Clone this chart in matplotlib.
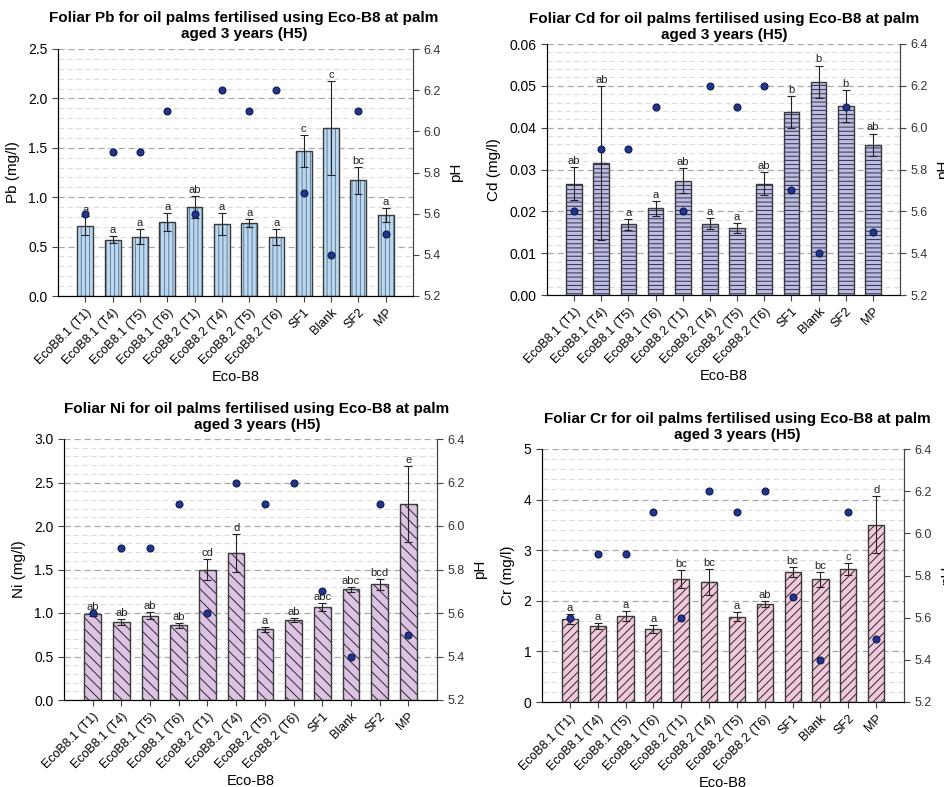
import matplotlib
matplotlib.use("Agg")
import matplotlib.pyplot as plt
from matplotlib.ticker import MultipleLocator, FormatStrFormatter
import numpy as np

plt.rcParams['font.family'] = ['Liberation Sans', 'DejaVu Sans']
plt.rcParams['hatch.linewidth'] = 0.7

# treatments and soil pH (same for every panel)
categories = ["EcoB8.1 (T1)", "EcoB8.1 (T4)", "EcoB8.1 (T5)", "EcoB8.1 (T6)",
              "EcoB8.2 (T1)", "EcoB8.2 (T4)", "EcoB8.2 (T5)", "EcoB8.2 (T6)",
              "SF1", "Blank", "SF2", "MP"]
ph = [5.6, 5.9, 5.9, 6.1, 5.6, 6.2, 6.1, 6.2, 5.7, 5.4, 6.1, 5.5]

# foliar Pb
pb_mean = [0.71, 0.57, 0.60, 0.75, 0.90, 0.73, 0.74, 0.60, 1.47, 1.70, 1.17, 0.82]
pb_err = [0.095, 0.035, 0.075, 0.09, 0.115, 0.11, 0.04, 0.08, 0.16, 0.48, 0.135, 0.075]
pb_letters = ["a", "a", "a", "a", "ab", "a", "a", "a", "c", "c", "bc", "a"]

# foliar Cd
cd_mean = [0.0266, 0.0316, 0.0169, 0.0207, 0.0273, 0.0170, 0.0160, 0.0266,
           0.0438, 0.0510, 0.0452, 0.0359]
cd_err = [0.0040, 0.0184, 0.0013, 0.0018, 0.0030, 0.0013, 0.0012, 0.0027,
          0.0038, 0.0038, 0.0038, 0.0027]
cd_letters = ["ab", "ab", "a", "a", "ab", "a", "a", "ab", "b", "b", "b", "ab"]

# foliar Ni
ni_mean = [0.985, 0.897, 0.966, 0.858, 1.50, 1.69, 0.812, 0.916, 1.073, 1.272, 1.33, 2.253]
ni_err = [0.02, 0.035, 0.04, 0.028, 0.115, 0.215, 0.025, 0.025, 0.045, 0.03, 0.065, 0.435]
ni_letters = ["ab", "ab", "ab", "ab", "cd", "d", "a", "ab", "abc", "abc", "bcd", "e"]

# foliar Cr
cr_mean = [1.647, 1.509, 1.70, 1.436, 2.424, 2.372, 1.686, 1.937, 2.569, 2.424, 2.628, 3.505]
cr_err = [0.10, 0.06, 0.09, 0.08, 0.18, 0.25, 0.09, 0.05, 0.09, 0.145, 0.11, 0.57]
cr_letters = ["a", "a", "a", "a", "bc", "bc", "a", "ab", "bc", "bc", "c", "d"]

W, H = 945, 787
fig = plt.figure(figsize=(W / 100, H / 100), dpi=100)


def px_axes(left, top, right, bottom):
    return fig.add_axes([left / W, 1 - bottom / H, (right - left) / W, (bottom - top) / H])


def panel(box, title_xy, element, means, errs, letters, ymax, major, minor, fmt,
          face, hatch, hatch_col, letter_off):
    ax = px_axes(*box)
    x = np.arange(len(categories))

    # hatched fill, then outline on top
    ax.bar(x, means, width=0.58, color=face, edgecolor=hatch_col, hatch=hatch,
           linewidth=0, zorder=2)
    ax.bar(x, means, width=0.58, color='none', edgecolor='#3a3a3a', linewidth=1.0, zorder=3)
    ax.errorbar(x, means, yerr=errs, fmt='none', ecolor='#222222', elinewidth=0.8,
                capsize=3, capthick=0.8, zorder=4)
    for xi, m, e, lab in zip(x, means, errs, letters):
        ax.text(xi, m + e + letter_off, lab, ha='center', va='bottom', fontsize=8,
                color='#222222', zorder=5)

    ax.set_xlim(-1, len(categories))
    ax.set_ylim(0, ymax)
    ax.yaxis.set_major_locator(MultipleLocator(major))
    ax.yaxis.set_minor_locator(MultipleLocator(minor))
    ax.yaxis.set_major_formatter(FormatStrFormatter(fmt))
    ax.grid(which='minor', axis='y', color='#dcdcdc', linestyle=(0, (5, 3)), linewidth=0.8)
    ax.grid(which='major', axis='y', color='#a8a8a8', linestyle=(0, (5, 3)), linewidth=0.9)
    ax.set_axisbelow(True)
    ax.tick_params(axis='y', which='minor', length=0)
    ax.tick_params(axis='y', which='major', labelsize=10, length=4, color='#444444')
    ax.tick_params(axis='x', which='major', labelsize=9, length=4, color='#444444')
    ax.set_xticks(x)
    ax.set_xticklabels(categories, rotation=45, ha='right', rotation_mode='anchor')
    ax.spines['top'].set_visible(False)
    for s in ('left', 'bottom', 'right'):
        ax.spines[s].set_color('#444444')
    ax.set_ylabel(element + " (mg/l)", fontsize=11, labelpad=6)
    ax.set_xlabel("Eco-B8", fontsize=10.5, labelpad=2)

    ax2 = ax.twinx()
    ax2.plot(x, ph, 'o', color='#1f3590', markeredgecolor='#111a4a', markersize=5,
             markeredgewidth=0.8, zorder=6)
    ax2.set_ylim(5.2, 6.4)
    ax2.set_yticks(np.arange(5.2, 6.41, 0.2))
    ax2.yaxis.set_major_formatter(FormatStrFormatter('%.1f'))
    ax2.tick_params(axis='y', labelsize=9, length=4, color='#444444', labelcolor='#333333')
    ax2.spines['top'].set_visible(False)
    ax2.spines['right'].set_color('#444444')
    ax2.set_ylabel("pH", fontsize=11, labelpad=6)

    fig.text(title_xy[0] / W, 1 - title_xy[1] / H,
             "Foliar " + element + " for oil palms fertilised using Eco-B8 at palm\naged 3 years (H5)",
             ha='center', va='center', fontsize=11, fontweight='bold', linespacing=1.25)
    return ax


panel((58, 49, 413, 296), (244, 26), "Pb", pb_mean, pb_err, pb_letters,
      2.5, 0.5, 0.1, '%.1f', '#bcd8ee', '||||', '#5f7f9e', 0.01)
panel((547, 44, 900, 295), (724, 27), "Cd", cd_mean, cd_err, cd_letters,
      0.06, 0.01, 0.002, '%.2f', '#bdbde0', '----', '#2e2e50', 0.0003)
panel((64, 439, 437, 700), (257, 417), "Ni", ni_mean, ni_err, ni_letters,
      3.0, 0.5, 0.1, '%.1f', '#dcc3e4', '\\\\\\', '#2a2a2a', 0.012)
panel((542, 449, 904, 702), (737, 427), "Cr", cr_mean, cr_err, cr_letters,
      5, 1, 0.2, '%d', '#f2c8dd', '////', '#2a2a2a', 0.02)

fig.savefig("out.png", dpi=100)
